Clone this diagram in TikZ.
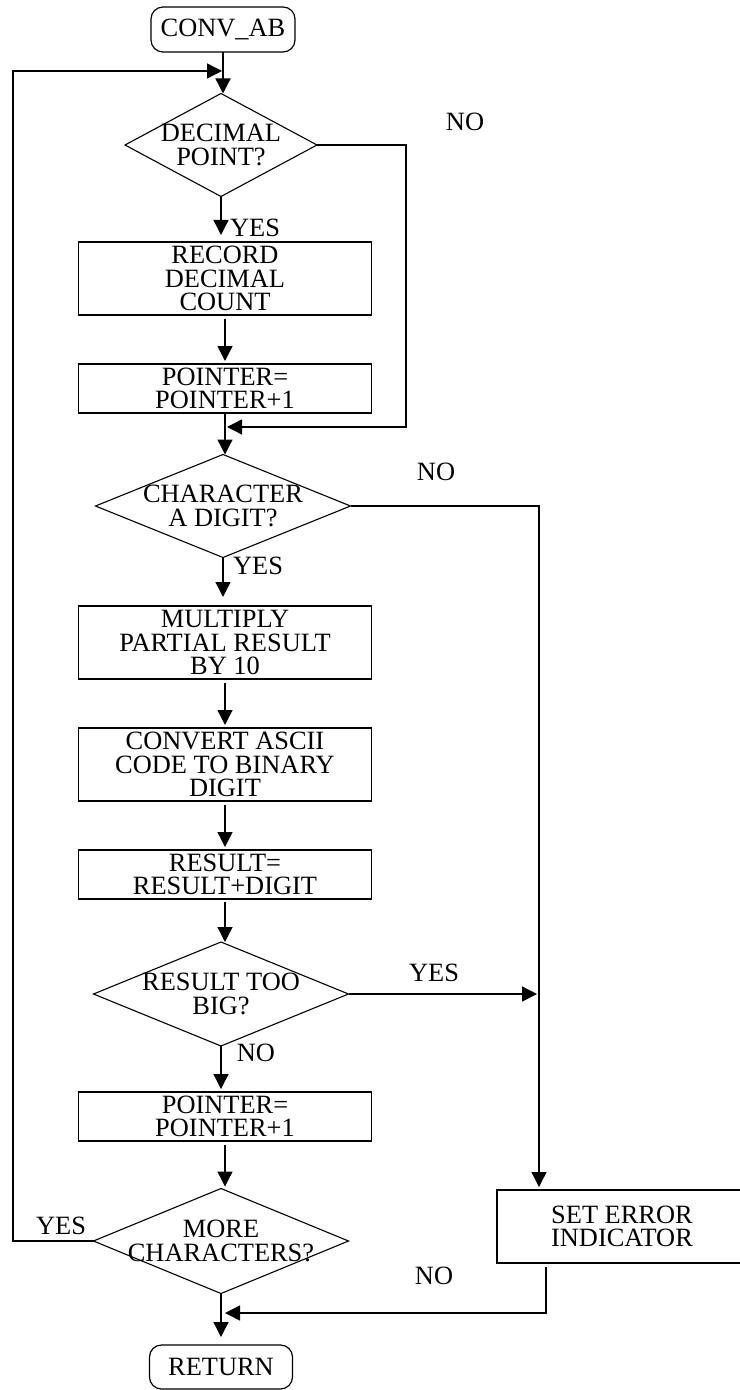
\documentclass[tikz,border=0pt]{standalone}
\usepackage{fontspec}
\setmainfont{Liberation Serif}
\usetikzlibrary{arrows.meta,shapes.geometric}
\tikzset{
  chartText/.style={font=\fontsize{13.2}{11.6}\selectfont, align=center, text=black},
  terminal/.style={chartText, rectangle, rounded corners=6pt, draw, line width=0.6pt,
    inner sep=1pt, outer sep=0pt},
  procBox/.style={chartText, rectangle, draw, line width=0.7pt, inner sep=1.5pt,
    outer sep=0pt, minimum width=146.5pt},
  decision/.style={chartText, diamond, aspect=2, draw, line width=0.55pt,
    inner sep=-8pt, outer sep=0pt},
  flow/.style={-{Triangle[length=7.5pt,width=7.5pt]}, line width=0.65pt},
  branchLabel/.style={chartText, inner sep=0pt},
}
\begin{document}
\begin{tikzpicture}[x=0.5pt,y=-0.5pt]
  \useasboundingbox (0,0) rectangle (739,1390);

  \node[terminal, minimum width=72pt, minimum height=22.5pt] (start) at (223,29.5) {CONV\_AB};
  \node[decision, minimum width=96pt, minimum height=51.5pt] (dec) at (221,145) {DECIMAL\\POINT?};
  \node[procBox, minimum height=36.5pt] (rec) at (225,278.5) {RECORD\\DECIMAL\\COUNT};
  \node[procBox, minimum height=24.5pt] (ptrA) at (225,388.5) {POINTER=\\POINTER+1};
  \node[decision, minimum width=127.5pt, minimum height=51.5pt] (chr) at (223,506) {CHARACTER\\A DIGIT?};
  \node[procBox, minimum height=36.5pt] (mul) at (225,642.5) {MULTIPLY\\PARTIAL RESULT\\BY 10};
  \node[procBox, minimum height=36.5pt] (cnv) at (225,764.5) {CONVERT ASCII\\CODE TO BINARY\\DIGIT};
  \node[procBox, minimum height=24.5pt] (res) at (225,874.5) {RESULT=\\RESULT+DIGIT};
  \node[decision, minimum width=127.5pt, minimum height=52pt] (big) at (221,994) {RESULT TOO\\BIG?};
  \node[procBox, minimum height=24.5pt] (ptrB) at (225,1116.5) {POINTER=\\POINTER+1};
  \node[decision, minimum width=127.5pt, minimum height=52.5pt] (more) at (221,1241) {MORE\\CHARACTERS?};
  \node[procBox, minimum width=125pt, minimum height=36.5pt] (err) at (622,1226.5) {SET ERROR\\INDICATOR};
  \node[terminal, minimum width=71.5pt, minimum height=22pt] (ret) at (221,1367) {RETURN};

  \coordinate (loopX) at (13,0);
  \coordinate (loopIn) at (222,71);
  \coordinate (decX) at (406,0);
  \coordinate (joinA) at (223,427);
  \coordinate (errX) at (539,0);
  \coordinate (errOut) at (546,0);
  \coordinate (joinB) at (221,1313);

  \draw[flow] (start.south) -- (start.south |- dec.north);
  \draw[flow, shorten >=3.5pt] (dec.south) -- (dec.south |- rec.north);
  \draw[flow, shorten <=2pt, shorten >=1.5pt] (rec.south) -- (ptrA.north);
  \draw[flow] (ptrA.south) -- (ptrA.south |- chr.north);
  \draw[flow, shorten >=4.5pt] (chr.south) -- (chr.south |- mul.north);
  \draw[flow, shorten <=2pt, shorten >=1.5pt] (mul.south) -- (cnv.north);
  \draw[flow, shorten <=2pt, shorten >=1.5pt] (cnv.south) -- (res.north);
  \draw[flow, shorten <=1.5pt] (res.south) -- (res.south |- big.north);
  \draw[flow, shorten >=1.5pt] (big.south) -- (big.south |- ptrB.north);
  \draw[flow, shorten <=2pt, shorten >=1pt] (ptrB.south) -- (ptrB.south |- more.north);
  \draw[flow, shorten >=4pt] (more.south) -- (ret.north);

  \draw[flow] (more.west) -- (more.west -| loopX) |- (loopIn);
  \draw[flow, shorten >=2pt] (dec.east) -| (decX |- joinA) -- (joinA);
  \draw[flow, shorten >=1.5pt] (chr.east) -| (errX |- err.north);
  \draw[flow, shorten >=1pt] (big.east) -- (big.east -| errX);
  \draw[flow, shorten <=2pt, shorten >=2pt] (errOut |- err.south) |- (joinB);

  \node[branchLabel] (decNo) at (465,122) {NO};
  \node[branchLabel] (decYes) at (255,228) {YES};
  \node[branchLabel] (chrNo) at (436,472) {NO};
  \node[branchLabel] (chrYes) at (258,566) {YES};
  \node[branchLabel] (bigYes) at (434,973) {YES};
  \node[branchLabel] (bigNo) at (256,1053) {NO};
  \node[branchLabel] (moreYes) at (61,1226) {YES};
  \node[branchLabel] (moreNo) at (434,1276) {NO};
\end{tikzpicture}
\end{document}
